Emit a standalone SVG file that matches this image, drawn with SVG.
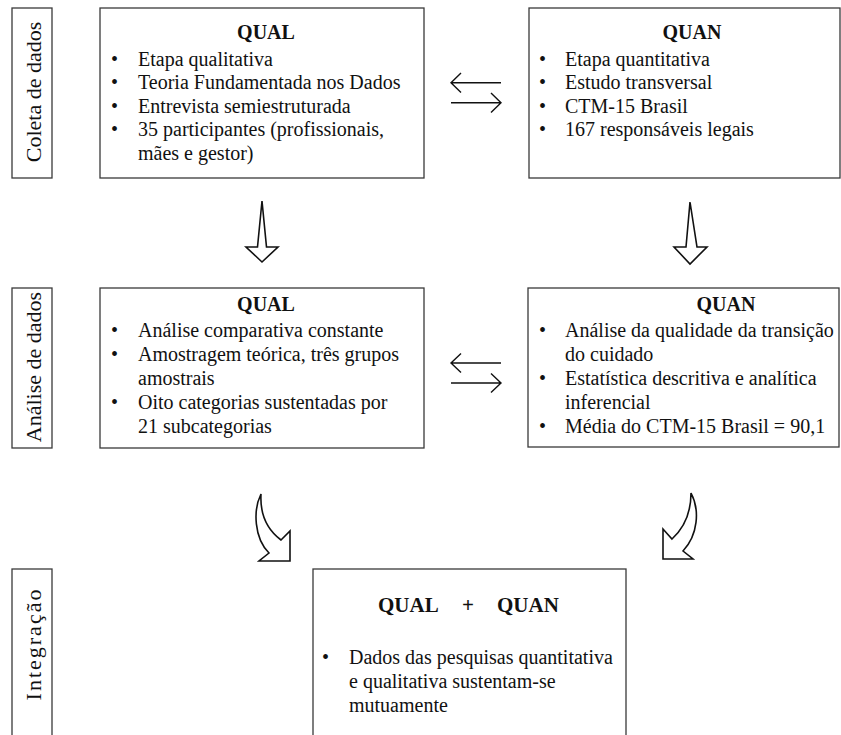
<svg xmlns="http://www.w3.org/2000/svg" width="841" height="735" viewBox="0 0 841 735">
<style>
.box{fill:#fff;stroke:#3a3a3a;stroke-width:1.3}
.t{font-family:"Liberation Serif","Times New Roman",serif;font-size:20px;fill:#111}
.h{font-family:"Liberation Serif","Times New Roman",serif;font-size:20px;font-weight:bold;fill:#111}
.side{font-family:"Liberation Serif","Times New Roman",serif;font-size:22px;fill:#111;text-anchor:middle}
.arr{fill:none;stroke:#111;stroke-width:1.4;stroke-linejoin:miter}
.blk{fill:#fff;stroke:#111;stroke-width:1.6;stroke-linejoin:miter}
</style>
<rect width="841" height="735" fill="#fff"/>

<g id="label-coleta">
<rect class="box" x="12" y="8" width="40" height="170"/>
<text class="side" transform="translate(41,92) rotate(-90)">Coleta de dados</text>
</g>
<g id="label-analise">
<rect class="box" x="12" y="288" width="40" height="160"/>
<text class="side" transform="translate(41,367) rotate(-90)">Análise de dados</text>
</g>
<g id="label-integracao">
<rect class="box" x="12" y="569" width="40" height="200"/>
<text class="side" transform="translate(41,644) rotate(-90)" letter-spacing="2">Integração</text>
</g>

<g id="qual-coleta">
<rect class="box" x="100" y="8" width="324" height="170"/>
<text class="h" x="266" y="39" text-anchor="middle">QUAL</text>
<text class="t" x="111" y="65.5">•</text><text class="t" x="138" y="65.5">Etapa qualitativa</text>
<text class="t" x="111" y="89">•</text><text class="t" x="138" y="89">Teoria Fundamentada nos Dados</text>
<text class="t" x="111" y="112.5">•</text><text class="t" x="138" y="112.5">Entrevista semiestruturada</text>
<text class="t" x="111" y="136">•</text><text class="t" x="138" y="136">35 participantes (profissionais,</text>
<text class="t" x="138" y="159.5">mães e gestor)</text>
</g>

<g id="quan-coleta">
<rect class="box" x="529" y="8" width="311" height="170"/>
<text class="h" x="692" y="39" text-anchor="middle">QUAN</text>
<text class="t" x="539" y="65.5">•</text><text class="t" x="565" y="65.5">Etapa quantitativa</text>
<text class="t" x="539" y="89">•</text><text class="t" x="565" y="89">Estudo transversal</text>
<text class="t" x="539" y="112.5">•</text><text class="t" x="565" y="112.5">CTM-15 Brasil</text>
<text class="t" x="539" y="136">•</text><text class="t" x="565" y="136">167 responsáveis legais</text>
</g>

<g id="qual-analise">
<rect class="box" x="100" y="288" width="324" height="160"/>
<text class="h" x="266" y="311" text-anchor="middle">QUAL</text>
<text class="t" x="111" y="337">•</text><text class="t" x="138" y="337">Análise comparativa constante</text>
<text class="t" x="111" y="361">•</text><text class="t" x="138" y="361">Amostragem teórica, três grupos</text>
<text class="t" x="138" y="385">amostrais</text>
<text class="t" x="111" y="408.5">•</text><text class="t" x="138" y="408.5">Oito categorias sustentadas por</text>
<text class="t" x="138" y="432.5">21 subcategorias</text>
</g>

<g id="quan-analise">
<rect class="box" x="528" y="288" width="311" height="159"/>
<text class="h" x="726" y="311" text-anchor="middle">QUAN</text>
<text class="t" x="539" y="337">•</text><text class="t" x="565" y="337">Análise da qualidade da transição</text>
<text class="t" x="565" y="361">do cuidado</text>
<text class="t" x="539" y="385">•</text><text class="t" x="565" y="385">Estatística descritiva e analítica</text>
<text class="t" x="565" y="408.5">inferencial</text>
<text class="t" x="539" y="432.5">•</text><text class="t" x="565" y="432.5">Média do CTM-15 Brasil = 90,1</text>
</g>

<g id="integracao">
<rect class="box" x="313" y="569" width="313" height="200"/>
<text class="h" x="378" y="612" style="font-size:21px">QUAL</text>
<text class="h" x="468" y="612" text-anchor="middle" style="font-size:21px">+</text>
<text class="h" x="497" y="612" style="font-size:21px">QUAN</text>
<text class="t" x="322" y="664">•</text><text class="t" x="349" y="664">Dados das pesquisas quantitativa</text>
<text class="t" x="349" y="688">e qualitativa sustentam-se</text>
<text class="t" x="349" y="712">mutuamente</text>
</g>

<g id="connectors">
<path class="arr" d="M451,82.7 H501 M461,73 L451,82.7 L461,92.5"/>
<path class="arr" d="M451,102.7 H501 M491,93 L501,102.7 L491,112.5"/>
<path class="arr" d="M451,363 H501 M461,353.5 L451,363 L461,372.5"/>
<path class="arr" d="M451,383 H501 M491,373.5 L501,383 L491,392.5"/>
<polygon class="blk" points="262,201 266.5,247 278,247 262,262 246,247 257.5,247"/>
<polygon class="blk" points="690,202 697,247 707,247 690,264 674,247 686,247"/>
<path class="blk" d="M261,494 C253,510 254,538 269,553 L259,561 L290,561 L290,531 L281,540 C265,528 260,512 261,494 Z"/>
<path class="blk" d="M691,493 C700,510 698,535 683,551 L693,559 L663,559 L663,529 L672,539 C684,528 691,512 691,493 Z"/>
</g>
</svg>
